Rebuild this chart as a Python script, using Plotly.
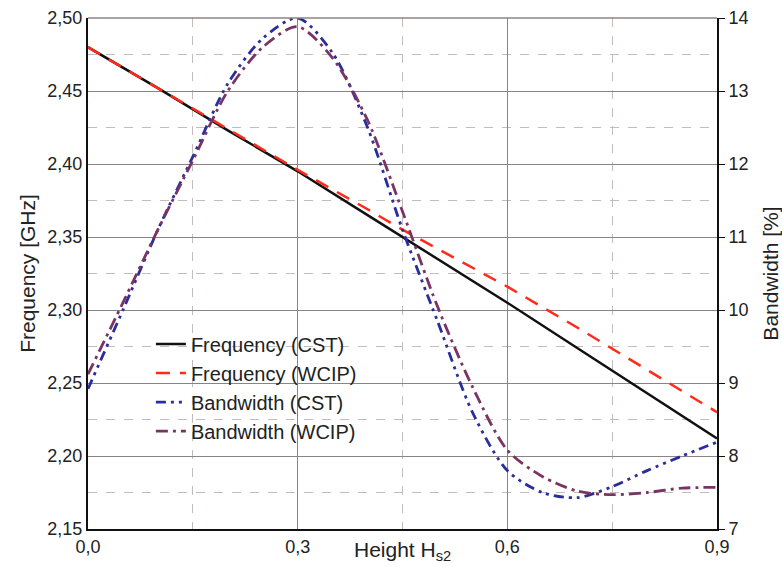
import plotly.graph_objects as go

# Data
height = [0.0, 0.05, 0.1, 0.15, 0.2, 0.25, 0.3, 0.35, 0.4, 0.45, 0.5, 0.55, 0.6,
          0.65, 0.7, 0.75, 0.8, 0.85, 0.9]

freq_x = [0.0, 0.1, 0.2, 0.3, 0.4, 0.45, 0.5, 0.6, 0.7, 0.8, 0.9]
freq_cst = [2.480, 2.452, 2.423, 2.395, 2.365, 2.350, 2.335, 2.305, 2.274, 2.243, 2.212]
freq_wcip = [2.480, 2.452, 2.424, 2.396, 2.369, 2.355, 2.342, 2.316, 2.288, 2.259, 2.230]

bw_cst = [8.92, 10.0, 11.1, 12.1, 13.1, 13.72, 14.0, 13.52, 12.5, 11.1, 9.85, 8.6, 7.8,
          7.5, 7.43, 7.58, 7.8, 8.0, 8.19]
bw_wcip = [9.12, 10.1, 11.1, 12.05, 13.0, 13.6, 13.88, 13.45, 12.6, 11.35, 10.05, 8.95, 8.08,
           7.72, 7.52, 7.47, 7.5, 7.56, 7.57]

x_ticks = [0.0, 0.3, 0.6, 0.9]
names = ["Frequency (CST)", "Frequency (WCIP)", "Bandwidth (CST)", "Bandwidth (WCIP)"]

FONT = "Liberation Sans, Arial, sans-serif"

fig = go.Figure()
fig.add_trace(go.Scatter(x=freq_x, y=freq_cst, name=names[0], mode="lines",
                         line=dict(color="#111111", width=2.5)))
fig.add_trace(go.Scatter(x=freq_x, y=freq_wcip, name=names[1], mode="lines",
                         line=dict(color="#ff2a1a", width=2.5, dash="14px,10px")))
fig.add_trace(go.Scatter(x=height, y=bw_cst, name=names[2], mode="lines", yaxis="y2",
                         line=dict(color="#2a2d9c", width=2.8, shape="spline", smoothing=0.8,
                                   dash="10px,5px,3px,5px,3px,5px")))
fig.add_trace(go.Scatter(x=height, y=bw_wcip, name=names[3], mode="lines", yaxis="y2",
                         line=dict(color="#7a3463", width=2.8, shape="spline", smoothing=0.8,
                                   dash="12px,5px,3px,5px")))

grid_major = "#8c8484"
grid_minor = "#c4bcbc"

fig.update_layout(
    width=782, height=566,
    margin=dict(l=88, r=65, t=18, b=37),
    paper_bgcolor="white", plot_bgcolor="white",
    separators=", ",
    font=dict(family=FONT, size=18, color="#222222"),
    showlegend=True,
    legend=dict(x=0.1, y=0.4, xanchor="left", yanchor="top",
                bgcolor="rgba(0,0,0,0)", font=dict(size=20, color="#222222"),
                tracegroupgap=0),
    xaxis=dict(range=[0, 0.9], tickvals=x_ticks,
               ticktext=[f"{v:.1f}".replace(".", ",") for v in x_ticks],
               showgrid=True, gridcolor=grid_major, gridwidth=1.2,
               minor=dict(dtick=0.15, tick0=0, showgrid=True, gridcolor=grid_minor,
                          griddash="dash", gridwidth=1.2),
               showline=True, linecolor="#111111", linewidth=2, zeroline=False,
               ticks="", automargin=False),
    yaxis=dict(range=[2.15, 2.50], dtick=0.05, tick0=2.15, tickformat=".2f",
               showgrid=True, gridcolor=grid_major, gridwidth=1.2,
               minor=dict(dtick=0.025, tick0=2.15, showgrid=True, gridcolor=grid_minor,
                          griddash="dash", gridwidth=1.2),
               showline=True, linecolor="#111111", linewidth=2, zeroline=False, ticks="",
               automargin=False,
               title=dict(text="Frequency [GHz]", font=dict(size=21, color="#222222"), standoff=6)),
    yaxis2=dict(range=[7, 14], dtick=1, overlaying="y", side="right", showgrid=False,
                showline=True, linecolor="#111111", linewidth=2, zeroline=False,
                ticks="outside", ticklen=6, tickcolor="#111111", automargin=False,
                title=dict(text="Bandwidth [%]", font=dict(size=21, color="#222222"), standoff=18)),
    annotations=[dict(text="Height H<sub>s2</sub>", x=0.45, xref="x", y=0, yref="paper",
                      xanchor="center", yanchor="top", yshift=-7, showarrow=False,
                      font=dict(size=21, color="#222222"))],
    shapes=[dict(type="line", xref="paper", yref="paper", x0=0, x1=1, y0=1, y1=1,
                 line=dict(color=grid_major, width=1.5))],
)

fig.write_html("out.html")
